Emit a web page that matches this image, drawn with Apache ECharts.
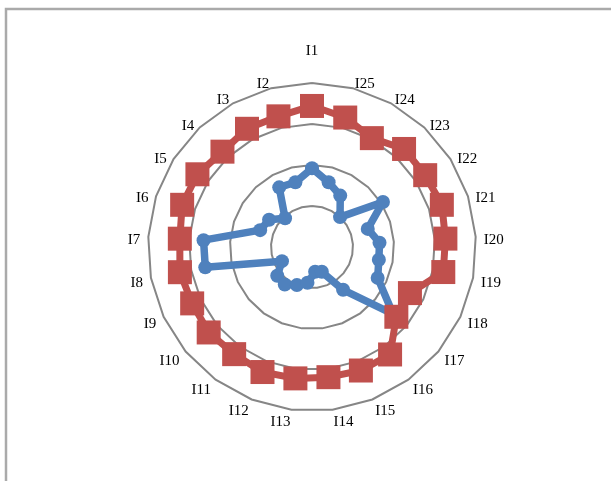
<!DOCTYPE html>
<html>
<head>
<meta charset="utf-8">
<script src="https://cdn.jsdelivr.net/npm/echarts@6/dist/echarts.min.js"></script>
<style>
html,body{margin:0;padding:0;background:#fff;}
#chart{width:611px;height:481px;}
</style>
</head>
<body>
<div id="chart"></div>
<script>
var categories = ['I1','I2','I3','I4','I5','I6','I7','I8','I9','I10','I11','I12','I13','I14','I15','I16','I17','I18','I19','I20','I21','I22','I23','I24','I25'];
var seriesBlue = [1.92,1.63,1.66,0.96,1.24,1.33,2.65,2.65,0.81,1.10,1.13,1.00,0.88,0.61,0.65,1.29,2.57,1.77,1.66,1.65,1.43,2.05,1.00,1.43,1.63];
var seriesRed = [3.44,3.29,3.29,3.19,3.31,3.33,3.23,3.28,3.23,3.27,3.23,3.28,3.23,3.20,3.24,3.24,2.67,2.64,3.26,3.26,3.33,3.27,3.28,3.03,3.26];
var axisMax = 4;

var chart = echarts.init(document.getElementById('chart'));
chart.setOption({
  animation: false,
  graphic: [{
    type: 'rect',
    shape: {x: 6, y: 9, width: 700, height: 600},
    style: {fill: 'none', stroke: '#aaaaaa', lineWidth: 2.5},
    silent: true
  }],
  radar: {
    center: [312, 247],
    radius: 164,
    startAngle: 90,
    splitNumber: 4,
    shape: 'polygon',
    indicator: categories.map(function (c) { return {name: c, min: 0, max: axisMax}; }),
    nameGap: 8,
    axisName: {
      color: '#000',
      fontFamily: 'Liberation Serif',
      fontSize: 15,
      padding: [8, 0, 0, 0],
      formatter: function (n) { return n === 'I1' ? '{t|' + n + '}' : n; },
      rich: {t: {padding: [0, 0, 16, 0], fontFamily: 'Liberation Serif', fontSize: 15, color: '#000'}}
    },
    axisLine: {show: false},
    axisTick: {show: false},
    axisLabel: {show: false},
    splitArea: {show: false},
    splitLine: {lineStyle: {color: '#868686', width: 2}}
  },
  series: [{
    type: 'radar',
    data: [{
      name: 'S1',
      value: seriesBlue,
      symbol: 'circle',
      symbolSize: 14,
      itemStyle: {color: '#4f81bd'},
      lineStyle: {color: '#4f81bd', width: 7.5}
    }, {
      name: 'S2',
      value: seriesRed,
      symbol: 'rect',
      symbolSize: 24,
      itemStyle: {color: '#c0504d'},
      lineStyle: {color: '#c0504d', width: 7}
    }]
  }]
});
</script>
</body>
</html>
